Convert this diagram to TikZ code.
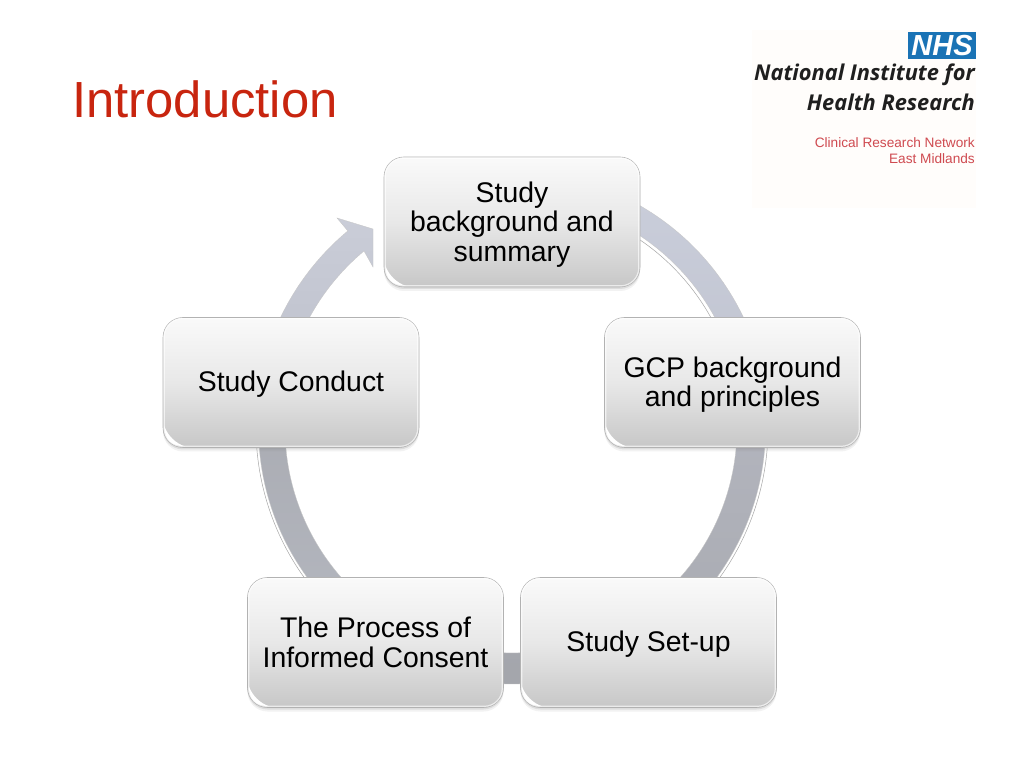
\documentclass[tikz,border=0pt]{standalone}
\usepackage{fontspec}
\setmainfont{Liberation Sans}
\newfontfamily\logofont{Open Sans}
\usetikzlibrary{shadows,calc}
\definecolor{titlered}{HTML}{C8250F}
\definecolor{logored}{HTML}{CF4A50}
\definecolor{nhsblue}{HTML}{1A73B5}
\definecolor{logobg}{HTML}{FFFDFB}
\definecolor{ringA}{HTML}{C9CDDA}
\definecolor{ringB}{HTML}{BFC2CE}
\definecolor{ringC}{HTML}{B2B4BD}
\definecolor{ringD}{HTML}{ABADB4}
\definecolor{ringE}{HTML}{A9ABB2}
\definecolor{ringF}{HTML}{A4A6AC}
\definecolor{ringG}{HTML}{B2B5BD}
\definecolor{ringH}{HTML}{CACDD8}
\definecolor{ringI}{HTML}{BABDC8}
\newcommand{\ringseg}[6]{% start angle, end angle, top colour, bottom colour, inner radius, outer radius
  \path[top color=#3,bottom color=#4,draw=gray!45,line width=.3pt]
    (center) ++(#1:#6) arc[start angle=#1,end angle=#2,radius=#6]
    -- ($(center)+(#2:#5)$) arc[start angle=#2,end angle=#1,radius=#5] -- cycle;
}
\newcommand{\ringline}[3]{% start angle, end angle, radius
  \draw[innerline] (center) ++(#1:#3) arc[start angle=#1,end angle=#2,radius=#3];
}
\newcommand{\dn}{\rule{0pt}{25pt}}
\newcommand{\dnone}{\rule{0pt}{24pt}}
\tikzset{
  x=1pt,y=1pt,
  stagebox/.style={rectangle,rounded corners=20pt,minimum width=256pt,minimum height=130pt,
    inner sep=0pt,align=center,draw=black!30,line width=.6pt,
    top color=white!98!black,bottom color=black!22,middle color=black!9,
    drop shadow={opacity=.10,shadow xshift=0pt,shadow yshift=-4pt},
    drop shadow={opacity=.18,shadow xshift=0pt,shadow yshift=-2pt},
    font=\fontsize{28.4}{29.5}\selectfont,text=black},
  innerline/.style={draw=gray!70,line width=.5pt},
  glint/.style={fill=white,draw=none},
  rim/.style={draw=white,line width=1.2pt,opacity=.65,rounded corners=18pt},
  logobig/.style={anchor=east,inner sep=0pt,text=black!88,font=\logofont\fontsize{21.8}{24}\selectfont\bfseries\itshape},
  logosmall/.style={anchor=east,inner sep=0pt,text=logored,font=\fontsize{13.65}{16}\selectfont},
}
\begin{document}
\begin{tikzpicture}
\useasboundingbox (0,0) rectangle (1024,768);
\fill[white] (0,0) rectangle (1024,768);
\coordinate (center) at (512,340);

% title
\node[anchor=west,inner sep=0pt,text=titlered,font=\fontsize{50.8}{56}\selectfont] (title) at (72,669) {Introduction};

% logo
\fill[logobg] (752,560) rectangle (976,738);
\fill[nhsblue] (908,709) rectangle (976,736);
\node[inner sep=0pt,text=white,font=\fontsize{29}{29}\selectfont\bfseries\itshape] (nhs) at (942,722.5) {NHS};
\node[logobig] (nihr1) at (975,693) {National Institute for};
\node[logobig] (nihr2) at (975,666) {Health Research};
\node[logosmall] (crn1) at (975,625.5) {Clinical Research Network};
\node[logosmall] (crn2) at (975,609) {East Midlands};

% ring
\ringseg{62}{22}{ringA}{ringB}{231}{256.5}
\ringline{62}{22}{227.5}
\ringseg{-2}{-42}{ringC}{ringD}{225}{253.5}
\ringline{-2}{-42}{256}
\ringseg{-84}{-96}{ringE}{ringF}{225}{256}
\ringseg{-138}{-178}{ringD}{ringG}{227}{253.5}
\ringline{-138}{-178}{256}

% returning arrow
\path[top color=ringH,bottom color=ringI,draw=gray!45,line width=.3pt]
  (center) ++(157:256.5) arc[start angle=157,end angle=129.8,radius=256.5]
  -- (337,550) -- (373,539) -- (373,501) -- (364,517)
  arc[start angle=129.9,end angle=157,radius=230.5] -- cycle;

% boxes
\node[stagebox] (b1) at (512,546) {\dn Study\\background and\\summary};
\node[stagebox] (b2) at (732.5,385.5) {\dn GCP background\\and principles};
\node[stagebox] (b3) at (648.5,125.5) {\dnone Study Set-up};
\node[stagebox] (b4) at (375.5,125.5) {The Process of\\Informed Consent};
\node[stagebox] (b5) at (291,385.5) {\dnone Study Conduct};

% inner rims and corner highlights
\foreach \n in {b1,b2,b3,b4,b5}{
  \draw[rim] ($(\n.south west)+(1.5,1.5)$) rectangle ($(\n.north east)+(-1.5,-1.5)$);
  \fill[glint] ($(\n.south west)+(1.5,22)$) .. controls ($(\n.south west)+(2,8)$) and ($(\n.south west)+(8,2)$) .. ($(\n.south west)+(22,1.5)$)
    .. controls ($(\n.south west)+(13,4.5)$) and ($(\n.south west)+(5,12)$) .. cycle;
}
\end{tikzpicture}
\end{document}
